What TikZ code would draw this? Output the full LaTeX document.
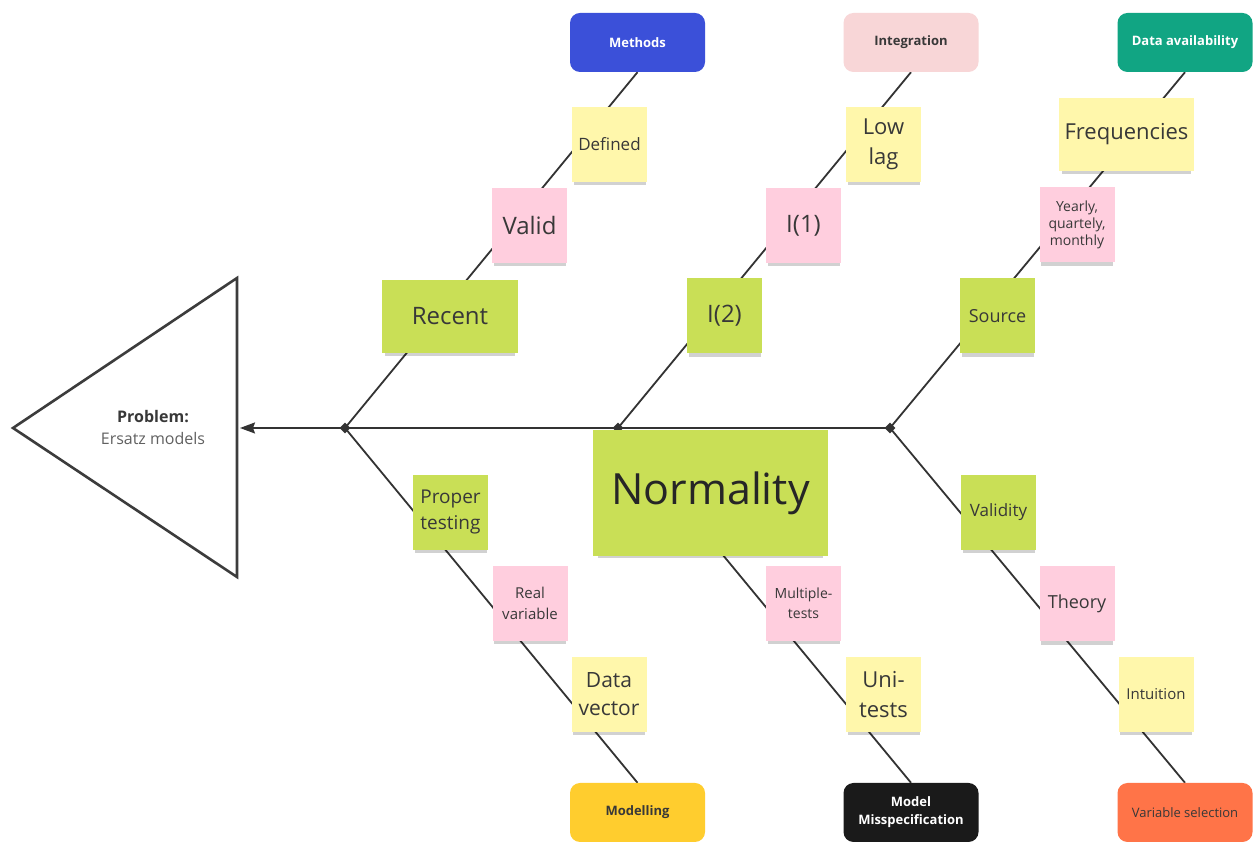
\documentclass[tikz,border=0pt]{standalone}
\usepackage{fontspec}
\setmainfont{Open Sans}
\usetikzlibrary{shapes.geometric,shadows,arrows.meta}
\pgfdeclarelayer{background}
\pgfsetlayers{background,main}

\definecolor{boneColor}{RGB}{51,51,51}
\definecolor{triColor}{RGB}{60,60,60}
\definecolor{noteText}{RGB}{56,56,56}
\definecolor{methodsBlue}{RGB}{59,80,217}
\definecolor{integPink}{RGB}{248,214,215}
\definecolor{availTeal}{RGB}{17,165,131}
\definecolor{modelYellow}{RGB}{255,205,46}
\definecolor{misspecBlack}{RGB}{26,26,26}
\definecolor{varselOrange}{RGB}{255,116,72}
\definecolor{noteGreen}{RGB}{201,223,86}
\definecolor{notePink}{RGB}{255,206,222}
\definecolor{noteYellow}{RGB}{255,247,171}

\newcommand{\fsize}[2]{\fontsize{#1}{#2}\selectfont}

\tikzset{
  bone/.style={draw=boneColor, line width=1.8pt},
  joint/.style={diamond, fill=boneColor, inner sep=0pt, minimum size=11pt},
  cat/.style={rectangle, rounded corners=10pt, minimum width=135pt, minimum height=59pt,
    inner sep=0pt, align=center, font=\bfseries\fsize{13}{18}},
  note/.style={rectangle, minimum width=75pt, minimum height=75pt, inner sep=2pt,
    align=center, text=noteText,
    drop shadow={shadow xshift=0pt, shadow yshift=-5pt, shadow scale=0.96, opacity=0.18, fill=black}},
  greennote/.style={note, fill=noteGreen},
  pinknote/.style={note, fill=notePink},
  yellownote/.style={note, fill=noteYellow},
}

\begin{document}
\begin{tikzpicture}[x=1pt,y=1pt]
\begin{pgfonlayer}{background}
\path[use as bounding box,fill=white] (0,0) rectangle (1258,838);
\end{pgfonlayer}

% head of the fish
\draw[draw=triColor, line width=2.6pt, line join=miter] (13,410) -- (237,560) -- (237,261) -- cycle;
\coordinate (base) at (240,410);
\node[align=center, text=noteText, font=\fsize{16}{22}] (problem) at (153,410)
  {\textbf{Problem:}\\\textcolor{black!62}{Ersatz models}};

% joints on the spine
\node[joint] (d1) at (345,410) {};
\node[joint] (d2) at (618,410) {};
\node[joint] (d3) at (890,410) {};

% categories
\node[cat, fill=methodsBlue, text=white] (methods) at (637.5,795.5) {Methods};
\node[cat, fill=integPink, text=noteText] (integ) at (911,795.5) {Integration};
\node[cat, fill=availTeal, text=white] (avail) at (1185,795.5) {Data availability};
\node[cat, fill=modelYellow, text=noteText] (modelling) at (637.5,25.5) {Modelling};
\node[cat, fill=misspecBlack, text=white] (misspec) at (911,25.5) {Model\\Misspecification};
\node[cat, fill=varselOrange, text=noteText, font=\fsize{13}{18}] (varsel) at (1185,25.5) {Variable selection};

% upper notes
\node[greennote, minimum width=136pt, minimum height=73pt, font=\fsize{24}{30}] (recent) at (450,521.5) {Recent};
\node[pinknote, font=\fsize{24}{30}] (valid) at (529.5,612.5) {Valid};
\node[yellownote, font=\fsize{17}{22}] (defined) at (609.5,693.5) {Defined};

\node[greennote, font=\fsize{24}{30}] (i2) at (724.5,522) {I(2)};
\node[pinknote, font=\fsize{24}{30}] (i1) at (803.5,612.5) {I(1)};
\node[yellownote, font=\fsize{22}{30}] (lowlag) at (883.5,693.5) {Low\\lag};

\node[greennote, font=\fsize{18}{24}] (source) at (997.5,522) {Source};
\node[pinknote, font=\fsize{14}{17}] (yearly) at (1077,613) {Yearly,\\quartely,\\monthly};
\node[yellownote, minimum width=135pt, minimum height=73pt, font=\fsize{22}{30}] (freq) at (1126.5,703.5) {Frequencies};

% lower notes
\node[greennote, minimum width=235pt, minimum height=126pt, text=black!85, font=\fsize{43}{56}] (normality) at (710.5,345) {Normality};

\node[greennote, font=\fsize{19}{26}] (proper) at (450.5,325.5) {Proper\\testing};
\node[pinknote, font=\fsize{15}{21}] (real) at (530,234.5) {Real\\variable};
\node[yellownote, font=\fsize{21}{28}] (datavec) at (609,143.5) {Data\\vector};

\node[pinknote, font=\fsize{14}{20}] (multi) at (803.5,234.5) {Multiple-\\tests};
\node[yellownote, font=\fsize{22}{30}] (unitests) at (883.5,143.5) {Uni-\\tests};

\node[greennote, font=\fsize{17}{22}] (validity) at (998.5,325.5) {Validity};
\node[pinknote, font=\fsize{18}{24}] (theory) at (1077,234) {Theory};
\node[yellownote, font=\fsize{15}{20}] (intuition) at (1156,143.5) {Intuition};

% bones behind the notes
\begin{pgfonlayer}{background}
\draw[bone, -{Stealth[length=15pt, width=11pt, inset=2pt]}] (d3.center) -- (base);
\draw[bone] (d1.center) -- (methods.south);
\draw[bone] (d2.center) -- (integ.south);
\draw[bone] (d3.center) -- (avail.south);
\draw[bone] (d1.center) -- (modelling.north);
\draw[bone] (d2.center) -- (misspec.north);
\draw[bone] (d3.center) -- (varsel.north);
\end{pgfonlayer}
\end{tikzpicture}
\end{document}
